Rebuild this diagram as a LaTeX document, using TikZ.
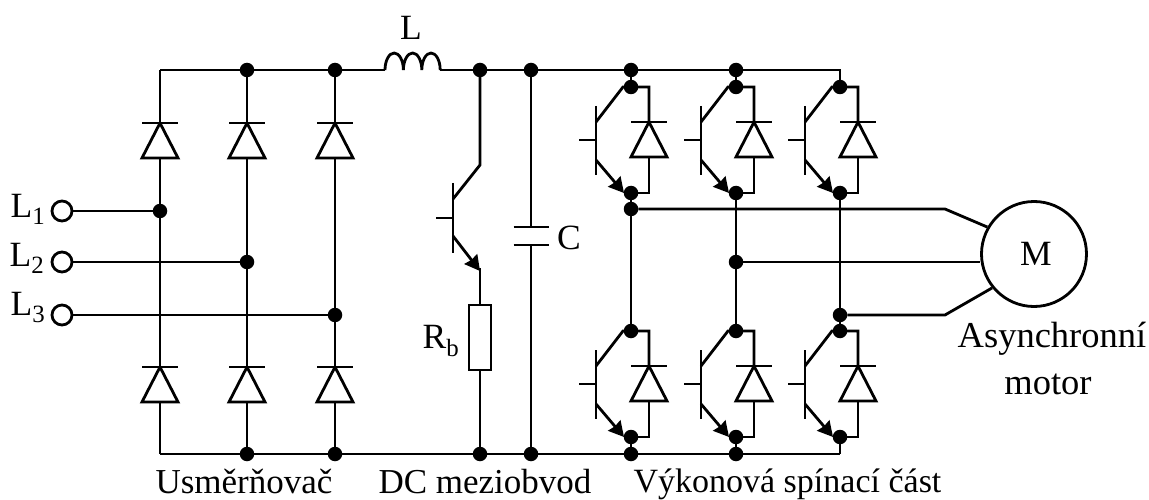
\documentclass[tikz,border=0pt]{standalone}
\usepackage{fontspec}
\setmainfont{Liberation Serif}
\usetikzlibrary{arrows.meta}
\tikzset{
  wire/.style={line width=2.8pt,line join=miter},
  dotnode/.style={circle,fill=black,draw=none,inner sep=0pt,minimum size=14.5pt},
  term/.style={circle,draw,line width=2.8pt,fill=white,inner sep=0pt,minimum size=20pt},
  lbl/.style={font=\fontsize{35.5}{35.5}\selectfont,inner sep=0pt,anchor=base},
  lblA/.style={font=\fontsize{35}{35}\selectfont,inner sep=0pt,anchor=base},
  lblB/.style={font=\fontsize{36.5}{36.5}\selectfont,inner sep=0pt,anchor=base},
  arrowwire/.style={wire,-{Triangle[length=15pt,width=16pt,inset=1pt]}},
}
% diode with apex at #1 pointing up
\newcommand{\mydiode}[2]{%
  \draw[wire,line join=miter,fill=white] (#1-18,#2+35) -- (#1,#2) -- (#1+18,#2+35) -- cycle;
  \draw[wire] (#1-18,#2) -- (#1+18,#2);
}
% transistor: x of dot column, y of top dot
\newcommand{\myigbt}[2]{%
  \draw[wire] (#1-35,#2+19) -- (#1-35,#2+88);
  \draw[wire] (#1-52,#2+53) -- (#1-35,#2+53);
  \draw[wire] (#1-35,#2+35) -- (#1-8,#2) -- (#1+18,#2) -- (#1+18,#2+35);
  \draw[arrowwire] (#1-35,#2+73) -- (#1-7,#2+106);
  \draw[wire] (#1+18,#2+71) -- (#1+18,#2+106) -- (#1,#2+106);
  \mydiode{#1+18}{#2+35}
  \node[dotnode] at (#1,#2) {};
  \node[dotnode] at (#1,#2+106) {};
}
\begin{document}
\begin{tikzpicture}[x=1pt,y=-1pt]
\useasboundingbox (0,0) rectangle (1149,500);
% buses
\coordinate (tl) at (160,70); \coordinate (il) at (385,70); \coordinate (ir) at (440,70); \coordinate (tr) at (840,70);
\coordinate (bl) at (160,454); \coordinate (br) at (840,454);
\draw[wire] (tl) -- (il);
\draw[wire] (il) arc[start angle=180,end angle=0,x radius=9.2,y radius=-17]
  arc[start angle=180,end angle=0,x radius=9.2,y radius=-17]
  arc[start angle=180,end angle=0,x radius=9.2,y radius=-17];
\draw[wire] (ir) -- (tr) -- (840,87);
\draw[wire] (bl) -- (br);
% rectifier
\foreach \x in {160,247,335}{
  \draw[wire] (\x,70) -- (\x,454);
  \mydiode{\x}{123}
  \mydiode{\x}{367}
}
\foreach \x in {247,335,480,531,631,736}{\node[dotnode] at (\x,70) {};}
\foreach \x in {247,335,480,531,631,736}{\node[dotnode] at (\x,454) {};}
% terminals
\foreach \n/\yy/\x in {1/211/160,2/262/247,3/315/335}{
  \node[term] (t\n) at (62,\yy) {};
  \node[dotnode] (j\n) at (\x,\yy) {};
  \draw[wire] (t\n) -- (j\n);
}
\node[lbl] at (28,217) {L$_{\mathrm{1}}$};
\node[lbl] at (27,266) {L$_{\mathrm{2}}$};
\node[lbl] at (28,315) {L$_{\mathrm{3}}$};
\node[lbl] at (411,40) {L};
% brake
\draw[wire] (480,70) -- (480,165) -- (453,199);
\draw[wire] (453,183) -- (453,253);
\draw[wire] (436,218) -- (453,218);
\draw[arrowwire] (453,236) -- (480,271);
\draw[wire] (480,268) -- (480,305);
\node[draw,line width=2.8pt,minimum width=22pt,minimum height=65pt,inner sep=0pt] (rb) at (480,337.5) {};
\draw[wire] (rb.south) -- (480,454);
\node[lbl] at (441,348) {R$_{\mathrm{b}}$};
% capacitor
\draw[wire] (531,70) -- (531,227);
\draw[wire] (531,245) -- (531,454);
\draw[wire] (513.5,227) -- (548.5,227);
\draw[wire] (513.5,245) -- (548.5,245);
\node[lbl] at (569,249) {C};
% inverter
\foreach \x in {631,736,840}{
  \draw[wire] (\x,87) -- (\x,70);
  \draw[wire] (\x,193) -- (\x,331);
  \draw[wire] (\x,437) -- (\x,454);
  \myigbt{\x}{87}
  \myigbt{\x}{331}
}
% motor
\node[circle,draw,line width=2.8pt,minimum size=105pt,inner sep=0pt] (m) at (1034,254) {};
\node[lbl] at (1036,265) {M};
\node[dotnode] (p1) at (631,209) {};
\node[dotnode] (p2) at (736,262) {};
\node[dotnode] (p3) at (840,315) {};
\draw[wire] (p1) -- (945,209) -- (m.150);
\draw[wire] (p2) -- (m.west |- p2);
\draw[wire] (p3) -- (945,315) -- (m.219);
\node[lblB] at (1052,347) {Asynchronní};
\node[lblB] at (1048,394) {motor};
\node[lblA] at (244,493) {Usměrňovač};
\node[lblA] at (485,493) {DC meziobvod};
\node[font=\fontsize{34}{34}\selectfont,inner sep=0pt,anchor=base] at (787.5,492) {Výkonová spínací část};
\end{tikzpicture}
\end{document}
